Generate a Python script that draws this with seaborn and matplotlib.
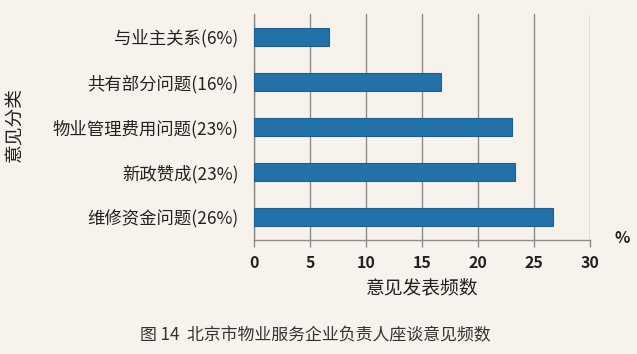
import matplotlib
matplotlib.use("Agg")
import matplotlib.pyplot as plt
import seaborn as sns
import pandas as pd

categories = ["与业主关系(6%)", "共有部分问题(16%)", "物业管理费用问题(23%)", "新政赞成(23%)", "维修资金问题(26%)"]
values = [6.67, 16.67, 23.0, 23.33, 26.67]
xticks = [0, 5, 10, 15, 20, 25, 30]

sns.set_theme(style="white")
plt.rcParams['font.family'] = ['Noto Sans CJK SC', 'DejaVu Sans']

bg = "#f7f3ec"
fig = plt.figure(figsize=(6.37, 3.54), dpi=100, facecolor=bg)
ax = fig.add_axes([254/637, 1-240/354, 336/637, 226/354])
ax.set_facecolor(bg)

df = pd.DataFrame({"cat": categories, "val": values})
sns.barplot(data=df, x="val", y="cat", ax=ax, color="#2371a8", saturation=1,
            width=0.4, edgecolor="#1d5f8f", linewidth=0.8, zorder=3)

ax.set_xlim(0, 30)
ax.set_xticks(xticks)
ax.set_xticklabels([str(t) for t in xticks], fontsize=11.5, fontweight="bold", color="#222222")
ax.grid(axis="x", color="#8c8c8c", linewidth=1.0, zorder=0)
ax.grid(axis="y", visible=False)
for s in ["top", "right"]:
    ax.spines[s].set_visible(False)
for s in ["left", "bottom"]:
    ax.spines[s].set_color("#8c8c8c")
    ax.spines[s].set_linewidth(1.0)
ax.tick_params(axis="x", direction="out", length=5, color="#8c8c8c", width=1.0, pad=6, bottom=True)
ax.tick_params(axis="y", length=0, pad=11)
for lab in ax.get_yticklabels():
    lab.set_fontsize(12.5)
    lab.set_fontweight("medium")
    lab.set_color("#222222")

ax.set_xlabel("意见发表频数", fontsize=13.5, color="#222222", labelpad=4)
ax.set_ylabel("")
fig.text(15/637, 1-125/354, "意见分类", rotation=90, fontsize=13.5, color="#222222",
         ha="center", va="center")
fig.text(622/637, 1-238/354, "%", fontsize=11.5, fontweight="bold", color="#222222",
         ha="center", va="center")
fig.text(315/637, 1-335/354, "图 14  北京市物业服务企业负责人座谈意见频数", fontsize=12.2,
         color="#333333", ha="center", va="center")

fig.savefig("out.png", dpi=100, facecolor=bg)
